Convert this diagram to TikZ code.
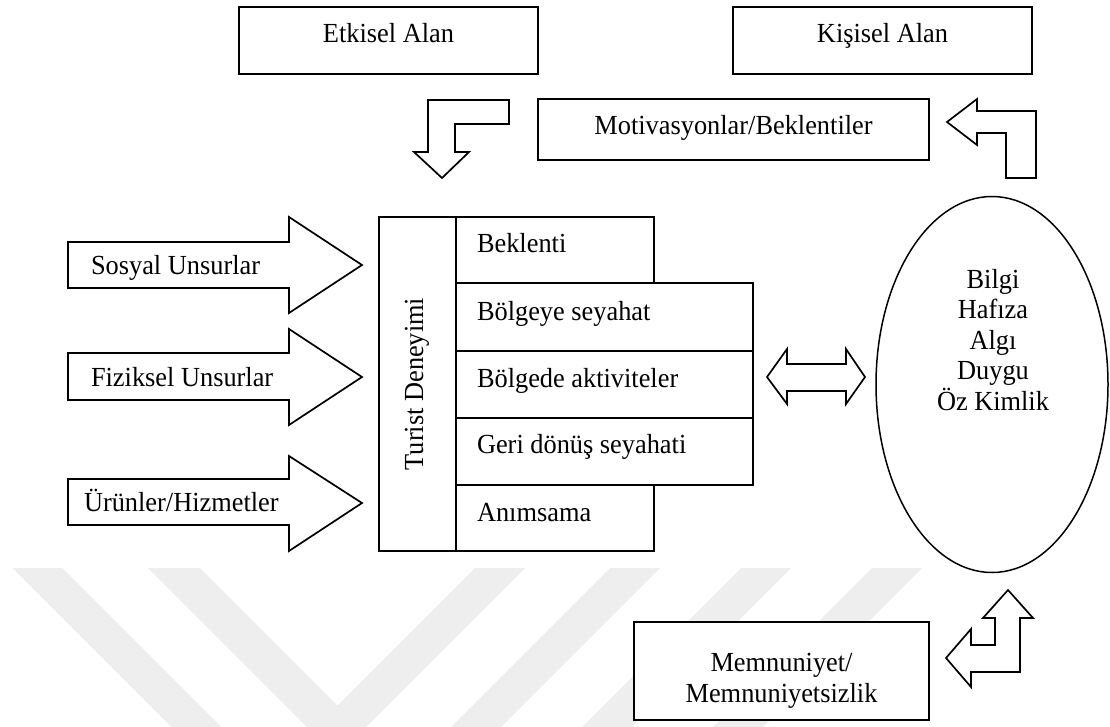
\documentclass[tikz,border=0pt]{standalone}
\usepackage{fontspec}
\setmainfont{Liberation Serif}[FakeStretch=0.955]
\usetikzlibrary{shapes.geometric}

\definecolor{wmgray}{RGB}{238,238,238}

\tikzset{
  outline/.style={draw=black, line width=1.7pt, fill=white, line join=miter},
  box/.style={outline, rectangle, inner sep=0pt, outer sep=0pt},
  lbl/.style={font=\fontsize{27.6}{30.5}\selectfont, inner sep=0pt, outer sep=0pt},
  rowlbl/.style={lbl, anchor=base west},
  stripe/.style={fill=wmgray, draw=none},
}

\begin{document}
\begin{tikzpicture}[x=1pt, y=-1pt]
  \useasboundingbox (0,0) rectangle (1110,727);

  % faint diagonal stripes in the lower part
  \fill[stripe] (12.5,568) -- (62.5,568) -- (221.5,727) -- (171.5,727) -- cycle;
  \fill[stripe] (148,568) -- (200,568) -- (337.5,705.5) -- (475,568) -- (525,568)
              -- (366,727) -- (307,727) -- cycle;
  \fill[stripe] (610,568) -- (660,568) -- (501,727) -- (451,727) -- cycle;
  \fill[stripe] (741,568) -- (791,568) -- (632,727) -- (582,727) -- cycle;
  \fill[stripe] (872,568) -- (922,568) -- (763,727) -- (713,727) -- cycle;

  % top boxes
  \node[box, minimum width=299pt, minimum height=67pt] (etk) at (388.5,40.5) {};
  \node[lbl, anchor=base] at (388.5,43) {Etkisel Alan};
  \node[box, minimum width=299pt, minimum height=67pt] (kis) at (882.5,40.5) {};
  \node[lbl, anchor=base] at (882.5,43) {Kişisel Alan};
  \node[box, minimum width=391pt, minimum height=61pt] (mot) at (733.5,129.5) {};
  \node[lbl, anchor=base] at (733.5,135) {Motivasyonlar/Beklentiler};

  % bent arrows at the top
  \draw[outline] (428,100) -- (509,100) -- (509,124) -- (455,124) -- (455,152)
     -- (469,152) -- (442,178) -- (414,152) -- (428,152) -- cycle;
  \draw[outline] (947,122) -- (977,99) -- (977,111) -- (1036,111) -- (1036,178)
     -- (1006,178) -- (1006,133) -- (977,133) -- (977,145) -- cycle;

  % input arrows on the left
  \draw[outline] (68,242) -- (289,242) -- (289,217) -- (362,265) -- (289,313)
     -- (289,288) -- (68,288) -- cycle;
  \node[rowlbl] at (91,274) {Sosyal Unsurlar};
  \draw[outline] (68,353) -- (289,353) -- (289,329) -- (362,377) -- (289,425)
     -- (289,400) -- (68,400) -- cycle;
  \node[rowlbl] at (91,386) {Fiziksel Unsurlar};
  \draw[outline] (68,479) -- (289,479) -- (289,456) -- (362,503) -- (289,551)
     -- (289,525) -- (68,525) -- cycle;
  \node[rowlbl] at (84,511) {Ürünler/Hizmetler};

  % tourist experience block
  \node[box, minimum width=77pt, minimum height=334pt] (td) at (417.5,384) {};
  \node[lbl, rotate=90] at (417,384) {Turist Deneyimi};
  \node[box, minimum width=198pt, minimum height=66pt] (bek) at (555,250) {};
  \node[rowlbl] at (477,253) {Beklenti};
  \node[box, minimum width=297pt, minimum height=68pt] (bs) at (604.5,317) {};
  \node[rowlbl] at (477,320) {Bölgeye seyahat};
  \node[box, minimum width=297pt, minimum height=67pt] (ba) at (604.5,384.5) {};
  \node[rowlbl] at (477,387) {Bölgede aktiviteler};
  \node[box, minimum width=297pt, minimum height=67pt] (gd) at (604.5,451.5) {};
  \node[rowlbl] at (477,453) {Geri dönüş seyahati};
  \node[box, minimum width=198pt, minimum height=66pt] (an) at (555,518) {};
  \node[rowlbl] at (477,521) {Anımsama};

  % two-way arrow
  \draw[outline] (767,377) -- (787,349) -- (787,364) -- (846,364) -- (846,349)
     -- (865,377) -- (846,404) -- (846,391) -- (787,391) -- (787,404) -- cycle;

  % ellipse
  \node[ellipse, draw=black, line width=1.5pt, fill=white, inner sep=0pt,
        minimum width=232pt, minimum height=376pt] (el) at (992,384.5) {};
  \node[lbl, align=center] at (993,340) {Bilgi\\Hafıza\\Algı\\Duygu\\Öz Kimlik};

  % satisfaction box and its bent arrow
  \node[box, minimum width=295pt, minimum height=98pt] (mem) at (781.5,671) {};
  \node[lbl, align=center] at (781.5,681) {Memnuniyet/\\Memnuniyetsizlik};
  \draw[outline] (1008,590) -- (1033,618) -- (1020,618) -- (1020,672) -- (971,672)
     -- (971,687) -- (946,658) -- (971,629) -- (971,645) -- (995,645) -- (995,618)
     -- (983,618) -- cycle;
\end{tikzpicture}
\end{document}
